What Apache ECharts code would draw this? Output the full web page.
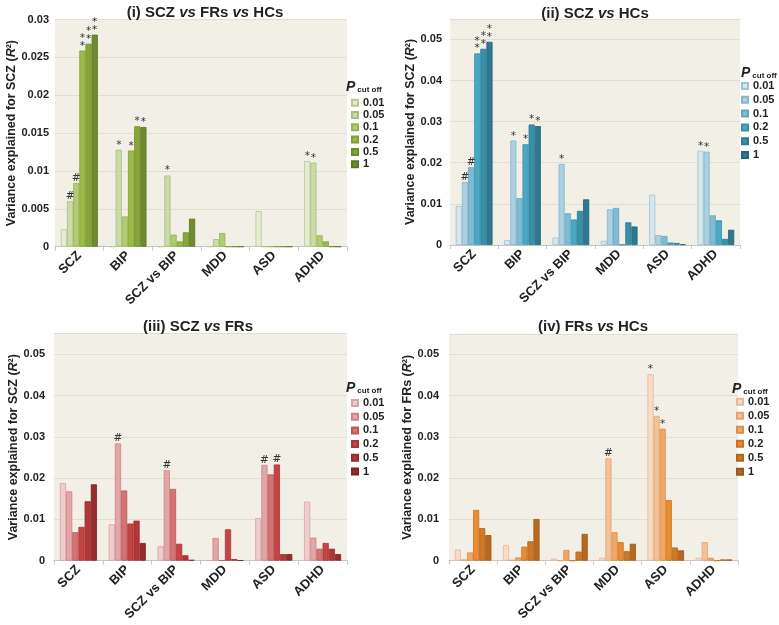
<!DOCTYPE html>
<html>
<head>
<meta charset="utf-8">
<script src="https://cdn.jsdelivr.net/npm/echarts@6/dist/echarts.min.js"></script>
<style>
html,body{margin:0;padding:0;background:#fff;}
#chart{width:779px;height:625px;}
</style>
</head>
<body>
<div id="chart"></div>
<script>
// ---------- DATA ----------
const categories = ['SCZ', 'BIP', 'SCZ vs BIP', 'MDD', 'ASD', 'ADHD'];
const cutoffs = ['0.01', '0.05', '0.1', '0.2', '0.5', '1'];

// rows = P cut-off (0.01 .. 1), columns = categories
const valuesSczFrHc = [
  [0.0023, 0,      0,      0,      0.0047, 0.0113],
  [0.0060, 0.0128, 0.0094, 0.0010, 0,      0.0111],
  [0.0084, 0.0040, 0.0016, 0.0018, 0,      0.0015],
  [0.0259, 0.0127, 0.0007, 0,      0,      0.0007],
  [0.0268, 0.0159, 0.0019, 0,      0,      0],
  [0.0280, 0.0158, 0.0037, 0,      0,      0]
];
const valuesSczHc = [
  [0.0095, 0.0012, 0.0018, 0.0010, 0.0122, 0.0229],
  [0.0153, 0.0254, 0.0197, 0.0087, 0.0024, 0.0227],
  [0.0189, 0.0114, 0.0077, 0.0090, 0.0022, 0.0072],
  [0.0466, 0.0245, 0.0062, 0.0001, 0.0006, 0.0060],
  [0.0477, 0.0293, 0.0083, 0.0055, 0.0005, 0.0015],
  [0.0494, 0.0289, 0.0111, 0.0045, 0.0002, 0.0037]
];
const valuesSczFr = [
  [0.0188, 0.0088, 0.0035, 0.0001, 0.0103, 0.0143],
  [0.0168, 0.0284, 0.0219, 0.0055, 0.0232, 0.0056],
  [0.0069, 0.0170, 0.0174, 0.0001, 0.0209, 0.0029],
  [0.0082, 0.0090, 0.0041, 0.0076, 0.0233, 0.0043],
  [0.0144, 0.0097, 0.0013, 0.0004, 0.0016, 0.0029],
  [0.0185, 0.0043, 0.0002, 0.0001, 0.0016, 0.0016]
];
const valuesFrHc = [
  [0.0027, 0.0038, 0.0005, 0.0007, 0.0452, 0.0007],
  [0.0003, 0.0002, 0,      0.0248, 0.0351, 0.0045],
  [0.0020, 0.0008, 0.0026, 0.0069, 0.0320, 0.0007],
  [0.0123, 0.0034, 0,      0.0045, 0.0147, 0],
  [0.0079, 0.0047, 0.0022, 0.0023, 0.0032, 0.0003],
  [0.0062, 0.0101, 0.0065, 0.0041, 0.0025, 0.0003]
];

// significance marks, same layout
const marksSczFrHc = [
  ['',   '',  '',  '', '', '*'],
  ['#',  '*', '*', '', '', '*'],
  ['#',  '',  '',  '', '', ''],
  ['**', '*', '',  '', '', ''],
  ['**', '*', '',  '', '', ''],
  ['**', '*', '',  '', '', '']
];
const marksSczHc = [
  ['',   '',  '',  '', '', '*'],
  ['#',  '*', '*', '', '', '*'],
  ['#',  '',  '',  '', '', ''],
  ['**', '*', '',  '', '', ''],
  ['**', '*', '',  '', '', ''],
  ['**', '*', '',  '', '', '']
];
const marksSczFr = [
  ['', '',  '',  '', '',  ''],
  ['', '#', '#', '', '#', ''],
  ['', '',  '',  '', '',  ''],
  ['', '',  '',  '', '#', ''],
  ['', '',  '',  '', '',  ''],
  ['', '',  '',  '', '',  '']
];
const marksFrHc = [
  ['', '', '', '',  '*', ''],
  ['', '', '', '#', '*', ''],
  ['', '', '', '',  '*', ''],
  ['', '', '', '',  '',  ''],
  ['', '', '', '',  '',  ''],
  ['', '', '', '',  '',  '']
];

const titles = [
  ['(i) SCZ ', 'vs', ' FRs ', 'vs', ' HCs'],
  ['(ii) SCZ ', 'vs', ' HCs'],
  ['(iii) SCZ ', 'vs', ' FRs'],
  ['(iv) FRs ', 'vs', ' HCs']
];
const yNames = ['SCZ', 'SCZ', 'SCZ', 'FRs'];
const yMax = [0.03, 0.055, 0.055, 0.055];
const yInterval = [0.005, 0.01, 0.01, 0.01];

// ---------- STYLE ----------
const palettes = [
  ['#e6ecd2', '#cddba8', '#b3cc74', '#9bbb45', '#86a636', '#6f8c2c'],
  ['#d6e8ef', '#abd0e0', '#7fbcd4', '#4aa8c4', '#3791ab', '#2c7990'],
  ['#f0cccc', '#e2a6a6', '#d47373', '#c64343', '#b43636', '#982c2c'],
  ['#f9dcc6', '#f5c298', '#f1a866', '#ea8d30', '#d17824', '#b8691f']
];
const borders = [
  ['#b9c98f', '#aabf7c', '#95b256', '#829f36', '#6f8c2c', '#5c7524'],
  ['#9fc3d2', '#86b6ca', '#62a5bf', '#3a90aa', '#2d7a90', '#236477'],
  ['#d9a3a3', '#cc8585', '#bb5a5a', '#a83636', '#962d2d', '#7c2424'],
  ['#e9b994', '#e2a274', '#d98d4c', '#c77424', '#b0641e', '#985619']
];
const grids = [
  {left: 55,  top: 19.5,  width: 292, height: 227.2},
  {left: 450, top: 18.8,  width: 290, height: 226.2},
  {left: 54,  top: 333.6, width: 293, height: 227.1},
  {left: 449, top: 333.8, width: 289, height: 226.9}
];
const titlePos = [[200, 0], [590, 1], [193, 314], [588, 314]];
const legendPos = [[351, 96.7, 0.3], [741, 80, 1.8], [351, 397, 1.7], [736, 395.7, 2]];
const pPos = [[346, 80], [741, 66], [346, 381], [732, 382]];
const yLabelMargin = [6, 8, 9, 10];

const allValues = [valuesSczFrHc, valuesSczHc, valuesSczFr, valuesFrHc];
const allMarks = [marksSczFrHc, marksSczHc, marksSczFr, marksFrHc];
const keys = ['i', 'ii', 'iii', 'iv'];

const bg = '#f1efe6';
const gridLine = '#e1ded2';

const option = {
  animation: false,
  textStyle: {fontFamily: 'Liberation Sans, Arial, sans-serif'},
  title: [], grid: [], xAxis: [], yAxis: [], legend: [], series: [], graphic: []
};

for (let p = 0; p < 4; p++) {
  const t = titles[p];
  option.title.push({
    left: titlePos[p][0], top: titlePos[p][1], textAlign: 'center',
    text: t.map((s, i) => (i % 2 ? '{i|' : '{b|') + s + '}').join(''),
    textStyle: {
      rich: {
        b: {fontSize: 15, fontWeight: 'bold', color: '#222', fontFamily: 'Liberation Sans'},
        i: {fontSize: 15, fontWeight: 'bold', fontStyle: 'italic', color: '#222', fontFamily: 'Liberation Sans'}
      }
    }
  });
  option.grid.push(Object.assign({show: true, backgroundColor: bg, borderWidth: 0}, grids[p]));
  option.xAxis.push({
    type: 'category', gridIndex: p, data: categories,
    axisLine: {lineStyle: {color: '#c6c6c6', width: 1}},
    axisTick: {show: true, length: 4, lineStyle: {color: '#c6c6c6'}},
    axisLabel: {rotate: 45, interval: 0, margin: 7, fontSize: 13, fontWeight: 'bold', color: '#222', fontFamily: 'Liberation Sans'},
    splitLine: {show: false}
  });
  const iv = yInterval[p];
  option.yAxis.push({
    type: 'value', gridIndex: p, min: 0, max: yMax[p], interval: iv,
    name: '{a|Variance explained for ' + yNames[p] + ' (}{i|R}{a|²)}',
    nameLocation: 'middle', nameGap: 31, nameRotate: 90,
    nameTextStyle: {
      rich: {
        a: {fontSize: 12.5, fontWeight: 'bold', color: '#222', fontFamily: 'Liberation Sans'},
        i: {fontSize: 12.5, fontWeight: 'bold', fontStyle: 'italic', color: '#222', fontFamily: 'Liberation Sans'}
      }
    },
    axisLine: {show: false}, axisTick: {show: false},
    axisLabel: {
      fontSize: 11, fontWeight: 'bold', color: '#222', margin: yLabelMargin[p], fontFamily: 'Liberation Sans',
      showMaxLabel: yMax[p] / iv === Math.round(yMax[p] / iv),
      formatter: v => {
        const k = v / iv;
        if (Math.abs(k - Math.round(k)) > 1e-6) return '';
        return v === 0 ? '0' : String(+v.toFixed(3));
      }
    },
    splitLine: {show: true, lineStyle: {color: gridLine, width: 1}}
  });
  const legendData = [];
  for (let s = 0; s < 6; s++) {
    const name = keys[p] + ':' + cutoffs[s];
    legendData.push(name);
    const marks = allMarks[p][s];
    option.series.push({
      type: 'bar', name: name, xAxisIndex: p, yAxisIndex: p,
      data: allValues[p][s],
      barGap: '0%', barCategoryGap: '24%',
      itemStyle: {color: palettes[p][s], borderColor: borders[p][s], borderWidth: 0.8},
      label: {
        show: true, position: 'top', distance: 1,
        fontSize: 10.5, color: '#333', lineHeight: 7.5,
        fontFamily: 'DejaVu Sans',
        formatter: prm => {
          const m = marks[prm.dataIndex];
          if (!m) return '';
          return m === '**' ? '*\n*' : m;
        }
      },
      emphasis: {disabled: true}
    });
  }
  option.legend.push({
    data: legendData, orient: 'vertical', left: legendPos[p][0], top: legendPos[p][1], padding: 0,
    itemWidth: 6, itemHeight: 6, itemGap: legendPos[p][2], icon: 'rect', selectedMode: false,
    formatter: n => n.split(':')[1],
    textStyle: {fontSize: 11, fontWeight: 'bold', color: '#222', lineHeight: 12, fontFamily: 'Liberation Sans'}
  });
  option.graphic.push({
    type: 'text', left: pPos[p][0], top: pPos[p][1],
    style: {
      text: '{p|P}{s|cut off}',
      rich: {
        p: {fontSize: 14, fontWeight: 'bold', fontStyle: 'italic', fill: '#222', fontFamily: 'Liberation Sans', lineHeight: 16},
        s: {fontSize: 8, fontWeight: 'bold', fill: '#222', fontFamily: 'Liberation Sans', padding: [5, 0, 0, 2], lineHeight: 16}
      }
    }
  });
}

const chart = echarts.init(document.getElementById('chart'), null, {renderer: 'canvas'});
chart.setOption(option);
</script>
</body>
</html>
